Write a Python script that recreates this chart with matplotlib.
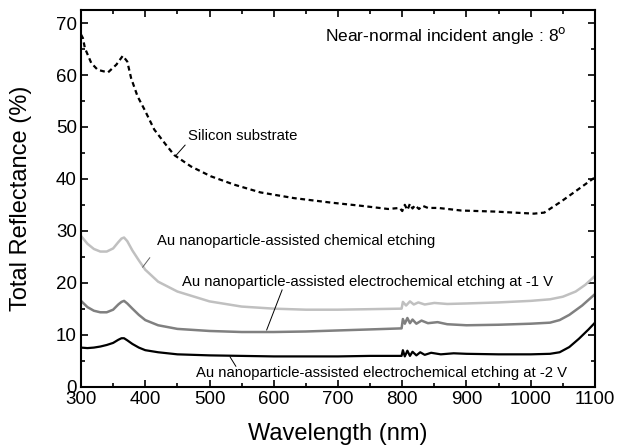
"""
Total reflectance spectra of Si substrate and Au-etched surfaces.
"""

import matplotlib
matplotlib.use("Agg")
import matplotlib.pyplot as plt
from matplotlib.ticker import MultipleLocator

plt.rcParams["font.family"] = ["Liberation Sans", "DejaVu Sans"]

# silicon substrate (dashed)
si_wl = [300, 303, 306, 316, 326, 342, 355, 365, 372, 378, 388, 399, 414, 432, 445, 471,
         502, 538, 579, 631, 691, 737, 778, 796, 800, 804, 808, 812, 816, 820, 826, 832,
         840, 856, 892, 944, 1005, 1021, 1047, 1073, 1091, 1100]
si_r = [67.8, 67.1, 65.2, 62.3, 61.0, 60.5, 62.0, 63.7, 62.6, 59.4, 55.9, 53.3, 49.5, 46.6,
        44.6, 42.4, 40.5, 38.9, 37.4, 36.3, 35.4, 34.8, 34.2, 34.4, 33.8, 35.0, 34.0, 35.2,
        34.3, 34.9, 34.2, 34.8, 34.4, 34.4, 33.9, 33.7, 33.3, 33.5, 35.6, 37.9, 39.5, 40.3]

# Au nanoparticle-assisted chemical etching
ce_wl = [300, 310, 320, 330, 340, 350, 358, 363, 367, 372, 380, 390, 400, 420, 450, 500,
         550, 600, 650, 700, 750, 799, 801, 806, 812, 818, 825, 835, 850, 870, 900, 950,
         1000, 1030, 1050, 1070, 1085, 1100]
ce_r = [29.0, 27.5, 26.5, 26.0, 26.0, 26.6, 27.8, 28.5, 28.7, 28.0, 26.2, 24.3, 22.5, 20.2,
        18.3, 16.4, 15.4, 15.0, 14.8, 14.8, 14.9, 15.0, 16.3, 15.6, 16.4, 15.8, 16.2, 15.8,
        16.1, 15.9, 16.0, 16.2, 16.5, 16.8, 17.3, 18.3, 19.6, 21.3]

# Au nanoparticle-assisted electrochemical etching at -1 V
e1_wl = [300, 310, 320, 330, 340, 350, 358, 363, 367, 372, 380, 390, 400, 420, 450, 500,
         550, 600, 650, 700, 750, 799, 801, 804, 808, 812, 816, 822, 830, 840, 855, 870,
         900, 950, 1000, 1030, 1045, 1060, 1080, 1100]
e1_r = [16.5, 15.3, 14.6, 14.3, 14.3, 14.8, 15.8, 16.3, 16.5, 16.0, 15.0, 13.8, 12.8, 11.8,
        11.1, 10.7, 10.5, 10.5, 10.6, 10.8, 11.0, 11.2, 13.0, 12.1, 13.2, 12.2, 12.9, 12.1,
        12.7, 12.2, 12.4, 12.0, 11.8, 11.9, 12.1, 12.3, 12.8, 13.8, 15.6, 17.8]

# Au nanoparticle-assisted electrochemical etching at -2 V
e2_wl = [300, 310, 320, 330, 340, 350, 358, 363, 367, 372, 380, 390, 400, 420, 450, 500,
         550, 600, 650, 700, 750, 799, 801, 804, 808, 812, 816, 822, 828, 835, 845, 860,
         880, 900, 950, 1000, 1030, 1045, 1060, 1075, 1090, 1100]
e2_r = [7.5, 7.4, 7.5, 7.7, 8.0, 8.4, 9.0, 9.3, 9.3, 8.9, 8.2, 7.5, 7.0, 6.6, 6.2, 6.0,
        5.9, 5.8, 5.8, 5.8, 5.9, 5.9, 7.0, 5.8, 6.9, 5.9, 6.7, 6.0, 6.6, 6.1, 6.5, 6.2,
        6.4, 6.3, 6.2, 6.2, 6.3, 6.6, 7.6, 9.2, 11.0, 12.3]

fig = plt.figure(figsize=(6.17, 4.47), dpi=100)
ax = fig.add_axes([0.1313, 0.1353, 0.833, 0.842])

ax.plot(si_wl, si_r, color="black", lw=1.6, ls=(0, (2.2, 1.6)))
ax.plot(ce_wl, ce_r, color="#c0c0c0", lw=1.8)
ax.plot(e1_wl, e1_r, color="#808080", lw=1.8)
ax.plot(e2_wl, e2_r, color="black", lw=1.6)

ax.set_xlim(300, 1100)
ax.set_ylim(0, 72.5)
ax.xaxis.set_major_locator(MultipleLocator(100))
ax.xaxis.set_minor_locator(MultipleLocator(50))
ax.yaxis.set_major_locator(MultipleLocator(10))
ax.yaxis.set_minor_locator(MultipleLocator(5))
ax.tick_params(which="both", direction="in", top=True, right=True, width=1.2)
ax.tick_params(which="major", length=5, labelsize=13.5, pad=3)
ax.tick_params(which="minor", length=3)
for sp in ax.spines.values():
    sp.set_linewidth(1.5)

ax.set_xlabel("Wavelength (nm)", fontsize=17)
ax.set_ylabel("Total Reflectance (%)", fontsize=17)
ax.xaxis.set_label_coords(0.5, -0.098)
ax.yaxis.set_label_coords(-0.095, 0.5)

ax.text(868, 67.7, r"Near-normal incident angle : 8$^{\rm o}$", ha="center", va="center",
        fontsize=12.5)

ax.text(466, 48.3, "Silicon substrate", fontsize=10.7, va="center")
ax.plot([462, 447], [46.5, 44.4], color="black", lw=0.7)

ax.text(418, 28.0, "Au nanoparticle-assisted chemical etching", fontsize=10.7, va="center")
ax.plot([407, 396], [24.8, 23.0], color="#606060", lw=0.7)

ax.text(457, 20.1, "Au nanoparticle-assisted electrochemical etching at -1 V", fontsize=10.7,
        va="center")
ax.plot([613, 589], [18.6, 10.9], color="black", lw=0.7)

ax.text(479, 2.6, "Au nanoparticle-assisted electrochemical etching at -2 V", fontsize=10.7,
        va="center")
ax.plot([532, 541], [5.7, 3.9], color="black", lw=0.7)

fig.savefig("out.png", dpi=100)
